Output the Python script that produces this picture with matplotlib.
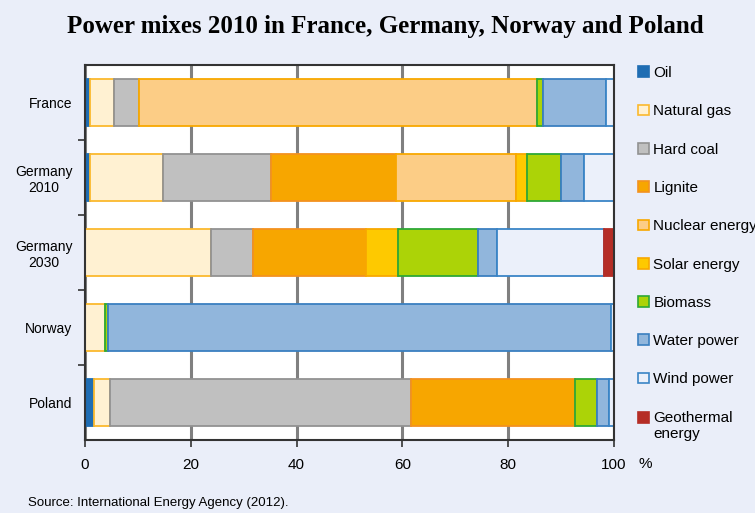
import matplotlib
matplotlib.use('Agg')
import matplotlib.pyplot as plt
import numpy as np
from matplotlib.patches import Patch

countries = ["France", "Germany\n2010", "Germany\n2030", "Norway", "Poland"]
sources = ["Oil", "Natural gas", "Hard coal", "Lignite", "Nuclear energy",
           "Solar energy", "Biomass", "Water power", "Wind power", "Geothermal\nenergy"]
oil = [0.9, 1.0, 0.0, 0.0, 1.7]
gas = [4.6, 13.7, 23.9, 3.8, 3.0]
coal = [4.7, 20.5, 7.8, 0.0, 57.0]
lignite = [0.0, 23.5, 21.5, 0.0, 31.0]
nuclear = [75.2, 22.8, 0.0, 0.0, 0.0]
solar = [0.0, 2.0, 5.9, 0.0, 0.0]
biomass = [1.1, 6.5, 15.2, 0.5, 4.1]
water = [11.9, 4.3, 3.5, 95.1, 2.3]
wind = [1.6, 5.7, 20.3, 0.6, 0.9]
geo = [0.0, 0.0, 1.9, 0.0, 0.0]
xticks = [0, 20, 40, 60, 80, 100]

series = [oil, gas, coal, lignite, nuclear, solar, biomass, water, wind, geo]
faces = ["#1f6db3", "#fff1d2", "#c0c0c0", "#f7a600", "#fccd86",
         "#fec900", "#acd307", "#91b6dc", "#ebf0fa", "#b52d26"]
edges = ["#1f6db3", "#fbb92e", "#929292", "#f39220", "#f8a800",
         "#f8a800", "#2da836", "#3a7fc0", "#3a85c6", "#b52d26"]

bg = "#eaeef9"
plt.rcParams['font.family'] = ['Liberation Sans', 'DejaVu Sans']

fig = plt.figure(figsize=(7.55, 5.13), dpi=100, facecolor=bg)
ax = fig.add_axes([85/755, 1-440/513, (614-85)/755, (440-65)/513])
ax.set_facecolor("white")

y = np.arange(len(countries))
left = np.zeros(len(countries))
for vals, fc, ec in zip(series, faces, edges):
    v = np.array(vals)
    lw = np.where(v > 0, 1.3, 0.0)
    ax.barh(y, v, left=left, height=0.63, color=fc, edgecolor=ec, linewidth=lw, zorder=3)
    left += v

ax.set_xlim(0, 100)
ax.set_ylim(len(countries)-0.5, -0.5)
ax.set_xticks(xticks)
ax.set_xticklabels([str(t) for t in xticks], fontsize=11)
ax.tick_params(axis='x', direction='out', length=5, width=1.2, color='#333333', pad=8)
ax.set_yticks(y)
ax.set_yticklabels(countries, fontsize=10, ha='right', multialignment='center')
ax.tick_params(axis='y', which='major', length=0, pad=9)
ax.set_yticks(np.arange(0.5, len(countries)-0.5, 1), minor=True)
ax.tick_params(axis='y', which='minor', direction='out', length=5, width=1.2, color='#333333')

ax.xaxis.grid(True, color='#808080', linewidth=2.2, zorder=0)
ax.set_axisbelow(True)
for s in ax.spines.values():
    s.set_color('#333333')
    s.set_linewidth(1.5)
    s.set_zorder(5)

fig.text(645/755, 1-464/513, "%", fontsize=11, va='center', ha='center')
fig.text(385/755, 1-27/513, "Power mixes 2010 in France, Germany, Norway and Poland",
         fontsize=18, fontweight='bold', family='Liberation Serif', ha='center', va='center')
fig.text(28/755, 1-503/513, "Source: International Energy Agency (2012).",
         fontsize=9.5, va='center', ha='left')

handles = [Patch(facecolor=fc, edgecolor=ec, linewidth=1.2) for fc, ec in zip(faces, edges)]
leg = fig.legend(handles, sources, loc='upper left', bbox_to_anchor=(632/755, 1-60/513),
                 frameon=False, fontsize=11, handlelength=0.7, handleheight=0.7,
                 handletextpad=0.3, labelspacing=1.59, borderaxespad=0)
# align the geothermal marker with the first line of its two-line label
geo_rect = leg.legend_handles[-1]
geo_rect.set_y(geo_rect.get_y() + 6.3)

fig.savefig("out.png", dpi=100, facecolor=bg)
